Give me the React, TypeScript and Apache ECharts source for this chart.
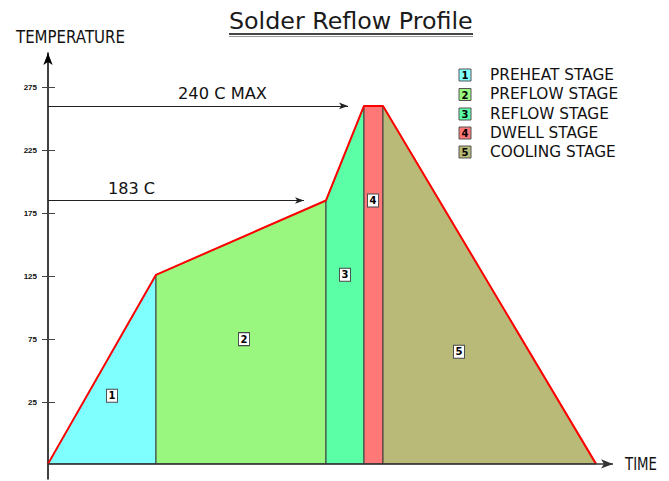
import React, { useEffect, useRef } from "react";
import * as echarts from "echarts";

// ---- data ----
const STAGE_NAMES = ["PREHEAT STAGE", "PREFLOW STAGE", "REFLOW STAGE", "DWELL STAGE", "COOLING STAGE"];
const STAGE_NUMS = ["1", "2", "3", "4", "5"];
const STAGE_COLORS = ["#80FFFF", "#99F780", "#5AFFA6", "#FF7878", "#B9B978"];
// profile corner points (time, temperature on the drawing's scale)
const PROFILE_TIME = [0, 108, 278, 316, 335, 548];
const PROFILE_TEMP = [-24, 126, 185, 260, 260, -24];
// stage number tags
const TAG_TIME = [64, 196, 297, 325, 411];
const TAG_TEMP = [30, 75, 126, 185, 65];
// y tick labels
const Y_TICKS = [25, 75, 125, 175, 225, 275];
// reference arrows
const MAX_TEMP = 260;
const MAX_ARROW_END = 300;
const LIQ_TEMP = 185;
const LIQ_ARROW_END = 256;
const MAX_LABEL = "240 C MAX";
const LIQ_LABEL = "183 C";

const BASE = -24;
const Y_MIN = -36;
const Y_MAX = 302;
const X_MAX = 570;
const X_AXIS_END = 565;

const FONT = "DejaVu Sans";

function fitScale(text: string, size: number, width: number, weight = "normal") {
  const c = document.createElement("canvas").getContext("2d");
  if (!c) return 1;
  c.font = `${weight} ${size}px "${FONT}"`;
  const w = c.measureText(text).width;
  return w > 0 ? width / w : 1;
}

function txt(text: string, x: number, y: number, size: number, width: number, extra: any = {}) {
  return {
    type: "text",
    x,
    y,
    scaleX: fitScale(text, size, width),
    z: 100,
    style: {
      text,
      fontFamily: FONT,
      fontSize: size,
      fill: "#111",
      align: "left",
      verticalAlign: "middle",
      textAlign: "left",
      textVerticalAlign: "middle",
      ...extra,
    },
  };
}

export default function App() {
  const ref = useRef<HTMLDivElement>(null);
  useEffect(() => {
    if (!ref.current) return;
    document.body.style.margin = "0";
    const chart = echarts.init(ref.current, null, { renderer: "svg" });

    const legendRows = [75, 94.5, 114, 133, 152];
    const legendScale = fitScale("PREHEAT STAGE", 15, 124);
    const legend: any[] = [];
    STAGE_NAMES.forEach((name, i) => {
      const y = legendRows[i];
      legend.push({
        type: "rect",
        shape: { x: 459, y: y - 6, width: 12, height: 12 },
        style: { fill: STAGE_COLORS[i], stroke: "#555", lineWidth: 1 },
        z: 100,
      });
      legend.push({
        type: "text",
        x: 465,
        y: y + 0.5,
        z: 101,
        style: {
          text: STAGE_NUMS[i],
          fontFamily: FONT,
          fontSize: 10,
          fontWeight: "bold",
          fill: "#000",
          align: "center",
          verticalAlign: "middle",
          textAlign: "center",
          textVerticalAlign: "middle",
        },
      });
      legend.push({
        type: "text",
        x: 490,
        y,
        scaleX: legendScale,
        z: 100,
        style: {
          text: name,
          fontFamily: FONT,
          fontSize: 15,
          fill: "#111",
          align: "left",
          verticalAlign: "middle",
          textAlign: "left",
          textVerticalAlign: "middle",
        },
      });
    });

    const option: any = {
      animation: false,
      grid: { left: 48, right: 669 - 48 - X_MAX, top: 53, bottom: 2, containLabel: false },
      xAxis: {
        type: "value",
        min: 0,
        max: X_MAX,
        axisLine: { show: false },
        axisTick: { show: false },
        axisLabel: { show: false },
        splitLine: { show: false },
      },
      yAxis: [
        {
          type: "value",
          min: Y_MIN,
          max: Y_MAX,
          position: "left",
          axisLine: {
            show: true,
            lineStyle: { color: "#000", width: 1.5 },
            symbol: ["none", "arrow"],
            symbolSize: [7, 12],
          },
          axisTick: { show: true, length: 6, customValues: Y_TICKS, lineStyle: { color: "#444" } },
          axisLabel: {
            customValues: Y_TICKS,
            margin: 11,
            fontSize: 8,
            fontWeight: "bold",
            fontFamily: "Liberation Sans",
            color: "#111",
          },
          splitLine: { show: false },
        },
        {
          type: "value",
          min: Y_MIN,
          max: Y_MAX,
          position: "left",
          axisLine: { show: false },
          axisTick: { show: true, inside: true, length: 7, customValues: Y_TICKS, lineStyle: { color: "#444" } },
          axisLabel: { show: false, customValues: Y_TICKS },
          splitLine: { show: false },
        },
      ],
      series: [
        {
          type: "custom",
          name: "stages",
          silent: true,
          encode: { x: [0, 1], y: [2, 3] },
          data: STAGE_COLORS.map((_, i) => [PROFILE_TIME[i], PROFILE_TIME[i + 1], PROFILE_TEMP[i], PROFILE_TEMP[i + 1]]),
          renderItem: (params: any, api: any) => {
            const x0 = api.value(0);
            const x1 = api.value(1);
            const y0 = api.value(2);
            const y1 = api.value(3);
            const pts = [api.coord([x0, BASE]), api.coord([x0, y0]), api.coord([x1, y1]), api.coord([x1, BASE])];
            return {
              type: "polygon",
              shape: { points: pts },
              style: { fill: STAGE_COLORS[params.dataIndex], stroke: "#3c3c3c", lineWidth: 1 },
            };
          },
          z: 2,
        },
        {
          type: "line",
          name: "profile",
          silent: true,
          data: PROFILE_TIME.map((t, i) => [t, PROFILE_TEMP[i]]),
          showSymbol: false,
          lineStyle: { color: "#FF0000", width: 2 },
          z: 3,
          markLine: {
            silent: true,
            symbol: ["none", "arrow"],
            symbolSize: [5, 9],
            label: { show: false },
            lineStyle: { color: "#222", width: 1, type: "solid" },
            data: [
              [{ coord: [0, MAX_TEMP] }, { coord: [MAX_ARROW_END, MAX_TEMP] }],
              [{ coord: [0, LIQ_TEMP] }, { coord: [LIQ_ARROW_END, LIQ_TEMP] }],
              [
                { coord: [0, BASE], lineStyle: { color: "#333", width: 1.5, type: "solid" }, symbolSize: [7, 12] },
                { coord: [X_AXIS_END, BASE], symbolSize: [7, 12] },
              ],
            ],
          },
        },
        {
          type: "scatter",
          name: "tags",
          silent: true,
          data: TAG_TIME.map((t, i) => [t, TAG_TEMP[i]]),
          symbol: "rect",
          symbolSize: [11, 13],
          itemStyle: { color: "#fff", borderColor: "#444", borderWidth: 1, opacity: 1 },
          label: {
            show: true,
            position: "inside",
            formatter: (p: any) => STAGE_NUMS[p.dataIndex],
            fontFamily: FONT,
            fontSize: 10,
            fontWeight: "bold",
            color: "#000",
          },
          z: 5,
        },
      ],
      graphic: [
        txt("Solder Reflow Profile", 229, 21, 23, 244, { fill: "#1a1a1a" }),
        { type: "line", shape: { x1: 229, y1: 34, x2: 473, y2: 34 }, style: { stroke: "#444", lineWidth: 2 }, z: 100 },
        { type: "line", shape: { x1: 229, y1: 36.5, x2: 473, y2: 36.5 }, style: { stroke: "#999", lineWidth: 1 }, z: 100 },
        txt("TEMPERATURE", 16, 37, 17, 109),
        txt("TIME", 625, 464.5, 17, 32),
        txt(MAX_LABEL, 178, 94, 16, 89),
        txt(LIQ_LABEL, 108, 188.5, 16, 47),
        ...legend,
      ],
    };
    chart.setOption(option);
    return () => chart.dispose();
  }, []);
  return <div ref={ref} style={{ width: 669, height: 481 }} />;
}
